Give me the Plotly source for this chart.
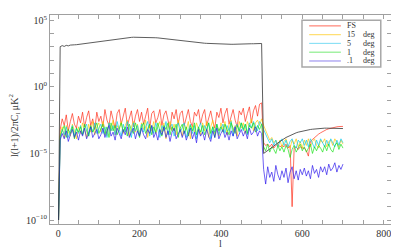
import numpy as np
import plotly.graph_objects as go

# multipole grid: l = 1, then 5..700 step 5
ell = [1] + list(range(5, 701, 5))

# values given as log10 of l(l+1)/2pi C_l [uK^2]
fs_log = [-10,
    -3.2,-2.4,-2.9,-2.1,-3.3,-2.6,-2.0,-2.8,-3.1,-2.2,
    -2.7,-1.9,-3.0,-2.3,-1.8,-2.9,-2.4,-3.2,-1.9,-2.6,
    -2.2,-3.0,-1.7,-2.5,-2.9,-1.8,-2.4,-3.1,-2.0,-1.7,
    -2.8,-2.1,-1.6,-2.9,-2.3,-1.8,-3.0,-2.2,-1.7,-2.6,
    -1.9,-2.8,-2.2,-1.6,-3.1,-2.0,-1.8,-2.7,-2.3,-1.7,
    -2.9,-2.1,-1.8,-2.6,-3.2,-1.9,-2.4,-1.7,-2.8,-2.0,
    -1.8,-2.9,-2.3,-1.7,-2.6,-3.0,-1.9,-2.2,-1.7,-2.8,
    -2.1,-1.7,-2.9,-2.4,-1.8,-2.6,-3.1,-1.9,-2.3,-1.6,
    -2.7,-2.0,-1.6,-2.8,-2.2,-1.7,-2.5,-3.0,-1.8,-2.1,
    -1.6,-2.6,-2.0,-1.5,-2.7,-1.8,-1.4,-2.2,-1.3,-1.2,
    -4.2,-4.4,-4.3,-4.5,-4.3,-4.6,-4.4,-4.3,-4.5,-4.4,
    -4.5,-4.3,-4.6,-4.4,-9.0,-4.6,-4.5,-4.7,-4.5,-4.6,
    -4.6,-4.8,-5.2,-4.1,-3.95,-3.8,-3.67,-3.55,-3.45,-3.35,
    -3.27,-3.2,-3.15,-3.1,-3.06,-3.02,-3.0,-2.98,-2.97,-2.97]

deg15_log = [-10,
    -3.6,-3.0,-3.8,-2.9,-3.4,-3.7,-2.8,-3.3,-3.9,-3.0,
    -3.5,-2.7,-3.2,-3.8,-2.8,-3.4,-2.6,-3.6,-3.0,-2.7,
    -3.4,-2.6,-3.1,-3.7,-2.7,-3.3,-2.5,-3.6,-2.9,-3.2,
    -2.6,-3.5,-2.9,-2.5,-3.7,-3.0,-2.6,-3.4,-2.8,-3.6,
    -2.7,-3.2,-2.5,-3.8,-2.9,-3.3,-2.6,-3.5,-3.0,-2.6,
    -3.4,-2.7,-3.9,-3.0,-2.6,-3.3,-2.8,-3.6,-2.5,-3.1,
    -3.7,-2.8,-3.2,-2.6,-3.9,-2.9,-3.4,-2.7,-3.1,-3.6,
    -2.7,-3.3,-2.6,-3.8,-3.0,-2.5,-3.5,-2.9,-3.7,-2.7,
    -3.2,-2.6,-3.6,-2.8,-2.5,-3.4,-2.9,-3.7,-2.6,-3.1,
    -2.7,-3.5,-2.6,-3.0,-2.4,-3.3,-2.7,-2.5,-2.9,-2.4,
    -2.9,-3.3,-3.7,-4.0,-3.8,-4.2,-4.0,-4.4,-4.0,-4.5,
    -4.1,-3.9,-4.4,-4.6,-4.0,-4.3,-3.9,-4.5,-4.1,-4.6,
    -4.0,-4.4,-3.9,-4.5,-4.1,-3.9,-4.4,-4.6,-4.0,-4.2,
    -3.9,-4.5,-4.1,-4.0,-4.4,-3.9,-4.2,-4.5,-4.0,-4.3]

deg5_log = [-10,
    -3.9,-3.2,-3.6,-3.0,-3.8,-3.3,-2.9,-3.7,-3.1,-3.5,
    -2.9,-3.6,-3.1,-2.8,-3.7,-3.0,-3.4,-2.7,-3.5,-3.1,
    -2.8,-3.5,-3.0,-3.8,-2.7,-3.3,-2.9,-3.6,-2.6,-3.2,
    -3.7,-2.8,-3.4,-2.6,-3.1,-3.8,-2.7,-3.3,-2.9,-3.6,
    -2.8,-3.4,-3.0,-2.6,-3.7,-2.9,-3.5,-2.7,-3.2,-3.8,
    -2.9,-3.3,-2.6,-3.6,-3.0,-2.8,-3.7,-3.1,-2.7,-3.4,
    -3.0,-2.7,-3.8,-3.2,-2.8,-3.5,-2.9,-3.9,-3.1,-2.7,
    -3.5,-2.9,-3.3,-2.7,-3.9,-3.0,-3.4,-2.8,-3.6,-3.1,
    -2.8,-3.5,-2.9,-3.3,-2.6,-3.7,-3.0,-2.8,-3.4,-2.7,
    -3.3,-2.8,-3.6,-2.7,-3.1,-2.6,-2.9,-3.3,-2.6,-2.8,
    -3.2,-3.6,-3.9,-4.2,-3.9,-4.4,-4.0,-4.5,-4.1,-3.9,
    -4.4,-4.0,-4.5,-4.1,-3.9,-4.4,-4.6,-4.0,-4.2,-3.9,
    -4.4,-4.0,-4.5,-3.9,-4.2,-4.6,-4.0,-4.4,-3.9,-4.2,
    -4.5,-4.0,-4.4,-3.9,-4.2,-4.5,-4.0,-4.4,-3.9,-4.2]

deg1_log = [-10,
    -3.7,-3.3,-2.9,-3.8,-3.2,-3.5,-3.0,-3.9,-3.1,-3.4,
    -3.0,-3.6,-2.8,-3.3,-3.7,-2.9,-3.4,-3.1,-2.7,-3.5,
    -3.2,-2.8,-3.6,-3.0,-3.8,-2.7,-3.3,-2.9,-3.6,-3.1,
    -2.7,-3.4,-3.0,-3.7,-2.8,-3.2,-3.5,-2.7,-3.3,-3.8,
    -3.0,-2.7,-3.5,-3.1,-2.8,-3.6,-3.0,-3.4,-2.7,-3.3,
    -3.7,-2.9,-3.2,-2.7,-3.6,-3.0,-3.3,-2.8,-3.8,-3.1,
    -2.8,-3.5,-3.0,-3.7,-2.9,-3.3,-2.7,-3.6,-3.0,-3.4,
    -2.9,-3.6,-3.1,-2.7,-3.5,-3.0,-3.8,-2.8,-3.3,-3.0,
    -3.4,-2.8,-3.2,-3.6,-2.7,-3.1,-3.5,-2.9,-3.3,-2.7,
    -3.2,-2.8,-3.5,-2.9,-3.1,-2.7,-3.4,-2.9,-3.2,-2.8,
    -4.5,-4.8,-4.3,-4.9,-4.5,-4.7,-5.0,-4.4,-4.8,-4.5,
    -4.9,-4.4,-4.7,-5.3,-4.7,-4.4,-4.9,-4.6,-4.3,-4.8,
    -4.5,-4.9,-4.6,-4.3,-5.0,-4.5,-4.8,-4.4,-4.6,-4.9,
    -4.4,-4.8,-4.3,-4.7,-4.9,-4.4,-4.2,-4.7,-4.3,-4.6]

deg01_log = [-10,
    -4.0,-3.5,-3.9,-3.3,-4.1,-3.6,-3.2,-3.8,-3.4,-4.0,
    -3.3,-3.7,-3.1,-3.9,-3.4,-3.0,-3.8,-3.5,-3.2,-3.9,
    -3.6,-3.1,-3.8,-3.3,-2.9,-3.7,-3.4,-4.0,-3.1,-3.5,
    -3.9,-3.2,-3.6,-3.0,-3.8,-3.4,-3.1,-3.9,-3.3,-3.7,
    -3.1,-3.6,-3.9,-3.2,-3.5,-2.9,-3.8,-3.4,-4.0,-3.2,
    -3.6,-3.0,-3.8,-3.3,-4.1,-3.4,-3.1,-3.9,-3.5,-3.2,
    -3.8,-3.3,-4.0,-3.5,-3.1,-3.9,-3.4,-4.2,-3.2,-3.7,
    -3.4,-4.0,-3.2,-3.7,-4.1,-3.3,-3.8,-3.1,-3.9,-3.5,
    -3.2,-3.8,-3.4,-4.0,-3.3,-3.7,-3.0,-3.9,-3.5,-3.2,
    -3.7,-3.3,-3.9,-3.1,-3.6,-3.4,-3.0,-3.7,-3.3,-3.5,
    -6.2,-7.3,-6.0,-6.8,-6.4,-7.1,-5.9,-6.6,-7.0,-6.3,
    -6.8,-6.1,-7.2,-6.4,-6.0,-6.9,-6.3,-7.0,-6.2,-6.6,
    -6.1,-6.7,-6.3,-6.9,-5.9,-6.5,-6.2,-6.8,-6.0,-6.4,
    -6.0,-6.6,-5.8,-6.3,-6.1,-5.7,-6.4,-5.9,-6.2,-5.8]

theory_log = [-10,
    3.02,3.10,3.04,3.12,3.08,3.14,3.13,3.16,3.17,3.19,
    3.21,3.23,3.25,3.27,3.30,3.32,3.35,3.37,3.40,3.42,
    3.45,3.47,3.50,3.52,3.55,3.57,3.59,3.61,3.63,3.65,
    3.66,3.68,3.69,3.70,3.71,3.72,3.73,3.73,3.74,3.74,
    3.74,3.74,3.73,3.73,3.72,3.71,3.70,3.69,3.68,3.66,
    3.65,3.63,3.61,3.60,3.58,3.56,3.54,3.52,3.50,3.48,
    3.46,3.44,3.42,3.40,3.38,3.37,3.35,3.33,3.32,3.30,
    3.29,3.28,3.27,3.26,3.25,3.24,3.23,3.23,3.22,3.22,
    3.21,3.21,3.20,3.20,3.20,3.20,3.21,3.21,3.21,3.22,
    3.22,3.22,3.23,3.23,3.24,3.24,3.25,3.25,3.26,3.26,
    -5.0,-4.9,-4.78,-4.65,-4.55,-4.45,-4.32,-4.2,-4.1,-4.0,
    -3.9,-3.8,-3.72,-3.65,-3.57,-3.5,-3.45,-3.4,-3.36,-3.32,
    -3.29,-3.26,-3.23,-3.2,-3.18,-3.16,-3.14,-3.13,-3.12,-3.11,
    -3.1,-3.1,-3.1,-3.1,-3.1,-3.1,-3.11,-3.12,-3.12,-3.13]

legend_nums = ["FS", "15", "5", "1", ".1"]
legend_unit = ["", "deg", "deg", "deg", "deg"]
series_logs = [fs_log, deg15_log, deg5_log, deg1_log, deg01_log]
series_rgb = ["255,40,20", "255,200,0", "0,200,235", "20,225,20", "40,20,235"]
legend_line_colors = ["rgb(255,130,115)", "rgb(255,222,110)", "rgb(140,225,245)",
                      "rgb(140,238,140)", "rgb(160,150,240)"]

FONT = "Liberation Serif"

fig = go.Figure()
for num, unit, lg, rgb in zip(legend_nums, legend_unit, series_logs, series_rgb):
    fig.add_trace(go.Scatter(x=ell, y=np.power(10.0, lg), mode="lines",
                             name=(num + " " + unit).strip(), showlegend=False,
                             line=dict(color="rgba(%s,0.75)" % rgb, width=0.9)))
fig.add_trace(go.Scatter(x=ell, y=np.power(10.0, theory_log), mode="lines",
                         showlegend=False, line=dict(color="#333333", width=0.8)))

# hand-drawn legend: box, then one sample line + label per series
shapes = [dict(type="rect", xref="paper", yref="paper", x0=0.739, x1=0.970, y0=0.751, y1=0.975,
               line=dict(color="#a8a8a8", width=1.5), fillcolor="white", layer="above")]
annotations = []
row_y = [0.948, 0.906, 0.864, 0.822, 0.780]
for yy, num, unit, lcol in zip(row_y, legend_nums, legend_unit, legend_line_colors):
    shapes.append(dict(type="line", xref="paper", yref="paper", x0=0.760, x1=0.853,
                       y0=yy, y1=yy, line=dict(color=lcol, width=1.2), layer="above"))
    annotations.append(dict(xref="paper", yref="paper", x=0.866, y=yy, text=num,
                            showarrow=False, xanchor="left", yanchor="middle",
                            font=dict(family=FONT, size=8, color="#333")))
    if unit:
        annotations.append(dict(xref="paper", yref="paper", x=0.912, y=yy, text=unit,
                                showarrow=False, xanchor="left", yanchor="middle",
                                font=dict(family=FONT, size=8, color="#333")))

# y-axis title, placed as rotated text left of the tick labels
annotations.append(dict(xref="paper", yref="paper", x=-0.105, y=0.47, textangle=-90,
                        text="l(l+1)/2\u03c0C<sub>l</sub> \u03bcK<sup>2</sup>", showarrow=False,
                        xanchor="center", yanchor="middle",
                        font=dict(family=FONT, size=10, color="#333")))

yt_minor = [10.0 ** e for e in range(-10, 6) if e % 5 != 0]
yt_major = [10.0 ** e for e in (-10, -5, 0, 5)]
ytt_major = ["10<sup>%s</sup>" % str(e).replace("-", "\u2212") for e in (-10, -5, 0, 5)]

axis_common = dict(showline=True, linecolor="#a0a0a0", linewidth=1, mirror="ticks",
                   ticks="inside", ticklen=4, tickcolor="#a0a0a0", showgrid=False,
                   zeroline=False, automargin=False,
                   tickfont=dict(family=FONT, size=10, color="#333"))

# the page body adds an 8px offset; figure size/margins compensate so the
# plot area lands at x 50..383, y 15..216 of the 399x249 window
fig.update_layout(
    width=391, height=241,
    margin=dict(l=42, r=8, t=7, b=25),
    paper_bgcolor="white", plot_bgcolor="white",
    font=dict(family=FONT, size=10, color="#333"),
    showlegend=False,
    shapes=shapes,
    annotations=annotations,
    xaxis=dict(range=[-20, 818], tickmode="array", tickvals=[0, 200, 400, 600, 800],
               minor=dict(tickmode="array", tickvals=list(range(50, 801, 50)), ticks="inside",
                          ticklen=4, tickcolor="#a0a0a0"),
               title=dict(text="l", standoff=2, font=dict(family=FONT, size=10)),
               **axis_common),
    yaxis=dict(type="log", range=[-10.3, 5.4], tickmode="array", tickvals=yt_major,
               ticktext=ytt_major,
               minor=dict(tickmode="array", tickvals=yt_minor, ticks="inside",
                          ticklen=4, tickcolor="#a0a0a0"),
               **axis_common),
)

fig.write_html("out.html")
